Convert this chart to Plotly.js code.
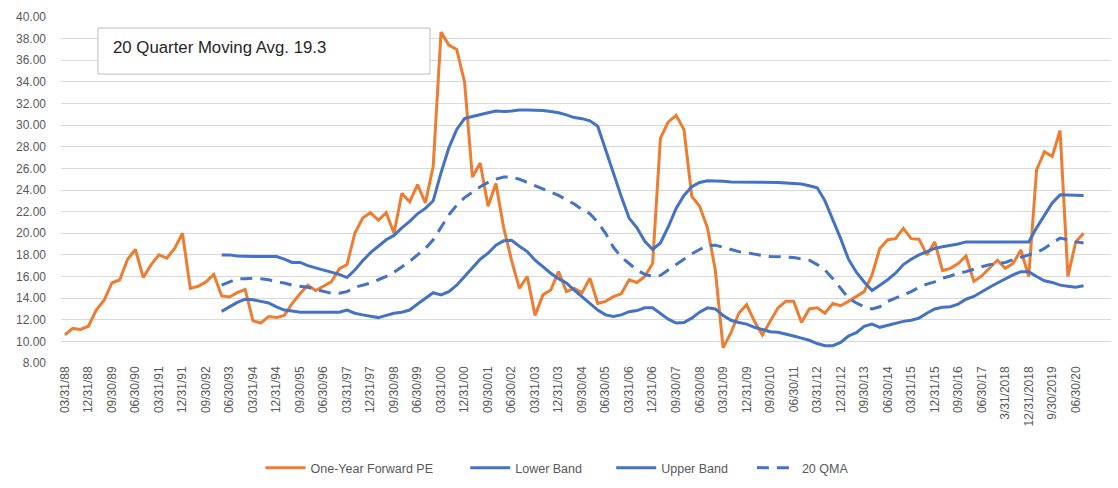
<!DOCTYPE html>
<html>
<head>
<meta charset="utf-8">
<script src="https://cdn.plot.ly/plotly-3.0.1.min.js"></script>
<style>html,body{margin:0;padding:0;background:#fff;}#chart{width:1118px;height:488px;}</style>
</head>
<body>
<div id="chart"></div>
<script>
// Quarter-end tick labels (every third quarter, 03/31/88 .. 06/30/20)
const tickLabels = ["03/31/88","12/31/88","09/30/89","06/30/90","03/31/91","12/31/91","09/30/92","06/30/93","03/31/94","12/31/94","09/30/95","06/30/96","03/31/97","12/31/97","09/30/98","06/30/99","03/31/00","12/31/00","09/30/01","06/30/02","03/31/03","12/31/03","09/30/04","06/30/05","03/31/06","12/31/06","09/30/07","06/30/08","03/31/09","12/31/09","09/30/10","06/30/11","03/31/12","12/31/12","09/30/13","06/30/14","03/31/15","12/31/15","09/30/16","06/30/17","3/31/2018","12/31/2018","9/30/2019","06/30/20"];

// One-Year Forward PE, quarterly from 03/31/88 to 09/30/20
const forwardPE = [10.6,11.2,11.1,11.4,12.9,13.8,15.4,15.7,17.6,18.5,
15.9,17.1,18.0,17.7,18.6,20.0,14.9,15.1,15.5,16.2,
14.2,14.1,14.5,14.8,11.9,11.7,12.3,12.2,12.4,13.5,
14.4,15.2,14.7,15.1,15.5,16.7,17.1,20.0,21.4,21.9,
21.2,21.9,20.0,23.7,22.9,24.5,22.8,26.2,38.6,37.4,
37.0,34.0,25.2,26.5,22.5,24.6,20.5,17.5,14.9,16.0,
12.4,14.3,14.75,16.45,14.6,14.9,14.5,15.85,13.5,13.7,
14.15,14.4,15.7,15.45,16.0,17.2,28.8,30.3,30.9,29.6,
23.4,22.5,20.5,16.6,9.4,10.8,12.6,13.4,11.85,10.6,
11.85,13.1,13.7,13.7,11.75,13.0,13.1,12.6,13.5,13.3,
13.7,14.15,14.6,16.15,18.6,19.4,19.5,20.45,19.5,19.45,
18.0,19.2,16.55,16.75,17.2,17.9,15.55,16.05,16.75,17.5,
16.75,17.2,18.45,16.0,25.85,27.55,27.1,29.5,16.0,19.2,
20.0];

// Bands and 20-quarter moving average start at 03/31/93 (quarter index 20)
const bandStart = 20;
const lowerBand = [12.77,13.2,13.6,13.9,13.85,13.7,13.55,13.2,12.9,12.8,
12.7,12.7,12.7,12.7,12.7,12.7,12.9,12.6,12.45,12.3,
12.2,12.4,12.6,12.7,12.9,13.45,14.0,14.5,14.3,14.6,
15.2,16.0,16.8,17.6,18.15,18.9,19.3,19.35,18.8,18.3,
17.5,16.9,16.3,15.8,15.4,14.75,14.15,13.55,12.9,12.45,
12.3,12.45,12.75,12.85,13.1,13.1,12.6,12.05,11.7,11.75,
12.15,12.7,13.1,13.0,12.4,11.95,11.75,11.6,11.3,11.1,
10.9,10.85,10.7,10.5,10.3,10.1,9.8,9.6,9.6,9.9,
10.5,10.8,11.4,11.6,11.3,11.5,11.7,11.85,11.95,12.15,
12.6,13.0,13.15,13.2,13.45,13.9,14.15,14.6,15.0,15.4,
15.8,16.15,16.45,16.45,16.0,15.6,15.45,15.2,15.1,15.0,
15.15];
const upperBand = [18.0,18.0,17.9,17.85,17.85,17.85,17.85,17.85,17.6,17.3,
17.3,17.0,16.8,16.6,16.4,16.2,15.9,16.6,17.45,18.2,
18.8,19.4,19.8,20.5,21.1,21.8,22.3,23.0,25.6,27.9,
29.6,30.6,30.8,31.0,31.15,31.3,31.25,31.3,31.4,31.4,
31.4,31.35,31.25,31.15,30.95,30.7,30.6,30.4,29.9,27.7,
25.4,23.4,21.4,20.5,19.25,18.5,19.1,20.6,22.3,23.5,
24.3,24.7,24.85,24.85,24.8,24.75,24.75,24.7,24.7,24.7,
24.7,24.7,24.65,24.6,24.55,24.4,24.2,23.0,21.3,19.5,
17.6,16.4,15.5,14.7,15.2,15.7,16.3,17.1,17.6,18.0,
18.3,18.6,18.75,18.85,19.0,19.2,19.2,19.2,19.2,19.2,
19.2,19.2,19.2,19.2,20.5,21.7,22.8,23.55,23.55,23.5,
23.5];
const qma20 = [15.2,15.5,15.8,15.8,15.85,15.8,15.7,15.5,15.4,15.2,
15.1,15.0,14.8,14.6,14.45,14.45,14.6,15.0,15.2,15.4,
15.7,16.0,16.4,16.9,17.4,18.0,18.6,19.4,20.5,21.7,
22.6,23.3,23.8,24.3,24.7,25.0,25.2,25.2,25.0,24.7,
24.4,24.1,23.8,23.5,23.1,22.7,22.2,21.8,21.0,20.0,
18.7,17.8,17.2,16.6,16.2,16.0,16.1,16.6,17.1,17.6,
18.1,18.5,18.85,18.9,18.7,18.5,18.3,18.2,18.05,17.95,
17.85,17.85,17.8,17.75,17.65,17.5,17.1,16.6,15.8,14.9,
14.0,13.55,13.2,13.0,13.2,13.7,14.0,14.3,14.6,15.0,
15.3,15.5,15.85,16.05,16.3,16.45,16.7,16.9,17.1,17.2,
17.3,17.55,17.8,18.0,18.2,18.6,19.1,19.55,19.4,19.2,
19.1];

const boxText = "20 Quarter Moving Avg. 19.3";

const ORANGE = "#ED7D31", BLUE = "#4472C4";
const FONT = "Liberation Sans, Arial, sans-serif";
const idx = (arr, start) => arr.map((_, k) => k + start);

const traces = [
  {x: idx(forwardPE, 0), y: forwardPE, name: "One-Year Forward PE", type: "scatter", mode: "lines",
   line: {color: ORANGE, width: 3}, legend: "legend"},
  {x: idx(lowerBand, bandStart), y: lowerBand, name: "Lower Band", type: "scatter", mode: "lines",
   line: {color: BLUE, width: 3}, legend: "legend2"},
  {x: idx(upperBand, bandStart), y: upperBand, name: "Upper Band", type: "scatter", mode: "lines",
   line: {color: BLUE, width: 3}, legend: "legend3"},
  {x: idx(qma20, bandStart), y: qma20, name: "20 QMA", type: "scatter", mode: "lines",
   line: {color: BLUE, width: 3, dash: "12px,8px"}, legend: "legend4"}
];

const legendBase = {orientation: "h", yanchor: "middle", y: -0.3035, xanchor: "left",
  bgcolor: "rgba(0,0,0,0)", font: {family: FONT, size: 12.5, color: "#595959"}, itemwidth: 40};

const layout = {
  width: 1118, height: 488,
  margin: {l: 61, r: 7, t: 17, b: 125, autoexpand: false},
  paper_bgcolor: "#ffffff", plot_bgcolor: "#ffffff",
  font: {family: FONT, size: 12, color: "#595959"},
  xaxis: {
    range: [-0.5, 133.5], tickmode: "array",
    tickvals: tickLabels.map((_, k) => k * 3), ticktext: tickLabels,
    tickangle: -90, showgrid: false, zeroline: false, showline: false, ticks: "",
    tickfont: {family: FONT, size: 12, color: "#595959"}, fixedrange: true
  },
  yaxis: {
    range: [8, 40], dtick: 2, tick0: 8, tickformat: ".2f",
    showgrid: true, gridcolor: "#D9D9D9", gridwidth: 1, zeroline: false, showline: false, ticks: "",
    ticklabelstandoff: 14,
    tickfont: {family: FONT, size: 12, color: "#595959"}, fixedrange: true
  },
  showlegend: true,
  legend: Object.assign({}, legendBase, {x: 0.190}),
  legend2: Object.assign({}, legendBase, {x: 0.385}),
  legend3: Object.assign({}, legendBase, {x: 0.524}),
  legend4: Object.assign({}, legendBase, {x: 0.658}),
  shapes: [{type: "rect", xref: "paper", yref: "paper", x0: 0.0352, x1: 0.3514, y0: 0.835, y1: 0.968,
    line: {color: "#BFBFBF", width: 1}, fillcolor: "#ffffff", layer: "above"}],
  annotations: [{xref: "paper", yref: "paper", x: 0.0476, y: 0.913, xanchor: "left", yanchor: "middle",
    text: boxText, showarrow: false, font: {family: FONT, size: 16.8, color: "#262626"}}]
};

Plotly.newPlot("chart", traces, layout, {staticPlot: true, displayModeBar: false});
</script>
</body>
</html>
